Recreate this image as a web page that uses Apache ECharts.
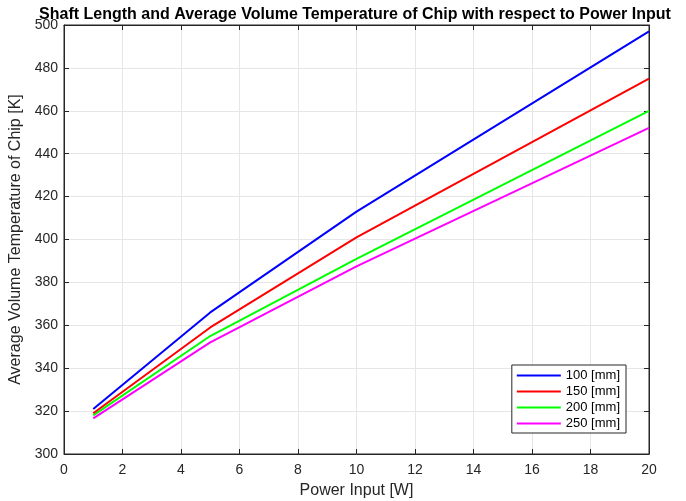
<!DOCTYPE html>
<html><head><meta charset="utf-8">
<script src="https://cdn.jsdelivr.net/npm/echarts@6/dist/echarts.min.js"></script>
<style>html,body{margin:0;padding:0;background:#fff}#c{width:686px;height:501px}</style>
</head><body><div id="c"></div>
<script>
const powerInput = [1, 5, 10, 20];
const seriesNames = ['100 [mm]', '150 [mm]', '200 [mm]', '250 [mm]'];
const temp100 = [321, 366, 413, 497];
const temp150 = [319, 359, 401, 475];
const temp200 = [318, 355, 391, 460];
const temp250 = [316.6, 352, 387.5, 452];
const colors = ['#0000ff', '#ff0000', '#00ff00', '#ff00ff'];

const allTemps = [temp100, temp150, temp200, temp250];
const font = 'Liberation Sans, Arial, Helvetica, sans-serif';
const axisCol = '#262626';
const chart = echarts.init(document.getElementById('c'));
chart.setOption({
  animation: false,
  title: {
    text: 'Shaft Length and Average Volume Temperature of Chip with respect to Power Input',
    left: 350, top: 2, textAlign: 'center',
    textStyle: {fontFamily: font, fontSize: 16, fontWeight: 'bold', color: '#000'}
  },
  grid: {left: 64, right: 37, top: 25, bottom: 47, outerBoundsMode: 'none', containLabel: false,
         show: true, borderColor: axisCol, borderWidth: 1, backgroundColor: '#fff'},
  legend: {
    orient: 'vertical', right: 60, bottom: 68,
    data: seriesNames,
    itemWidth: 44, itemHeight: 10, itemGap: 3,
    backgroundColor: '#fff', borderColor: '#262626', borderWidth: 1,
    padding: [4, 6, 3, 5],
    textStyle: {fontFamily: font, fontSize: 13, color: '#000'},
    icon: 'path://M0,4 L44,4 L44,6 L0,6 Z'
  },
  xAxis: [{
    type: 'value', min: 0, max: 20, interval: 2,
    name: 'Power Input [W]', nameLocation: 'middle', nameGap: 29,
    nameTextStyle: {fontFamily: font, fontSize: 16, color: axisCol},
    axisLine: {show: true, onZero: false, lineStyle: {color: axisCol}},
    axisTick: {show: true, inside: true, length: 5, lineStyle: {color: axisCol}},
    axisLabel: {fontFamily: font, fontSize: 14, color: axisCol, margin: 9},
    splitLine: {show: true, lineStyle: {color: '#e6e6e6'}}
  }, {
    type: 'value', min: 0, max: 20, interval: 2, position: 'top',
    axisLine: {show: true, onZero: false, lineStyle: {color: axisCol}},
    axisTick: {show: true, inside: true, length: 5, lineStyle: {color: axisCol}},
    axisLabel: {show: false}, splitLine: {show: false}
  }],
  yAxis: [{
    type: 'value', min: 300, max: 500, interval: 20,
    name: 'Average Volume Temperature of Chip [K]', nameLocation: 'middle', nameGap: 38,
    nameTextStyle: {fontFamily: font, fontSize: 16, color: axisCol},
    axisLine: {show: true, onZero: false, lineStyle: {color: axisCol}},
    axisTick: {show: true, inside: true, length: 5, lineStyle: {color: axisCol}},
    axisLabel: {fontFamily: font, fontSize: 14, color: axisCol, margin: 6},
    splitLine: {show: true, lineStyle: {color: '#e6e6e6'}}
  }, {
    type: 'value', min: 300, max: 500, interval: 20, position: 'right',
    axisLine: {show: true, onZero: false, lineStyle: {color: axisCol}},
    axisTick: {show: true, inside: true, length: 5, lineStyle: {color: axisCol}},
    axisLabel: {show: false}, splitLine: {show: false}
  }],
  series: allTemps.map((arr, i) => ({
    name: seriesNames[i], type: 'line',
    data: powerInput.map((x, j) => [x, arr[j]]),
    showSymbol: false, symbol: 'none',
    lineStyle: {color: colors[i], width: 2}, itemStyle: {color: colors[i]},
    z: 10 - i
  }))
});
</script></body></html>
